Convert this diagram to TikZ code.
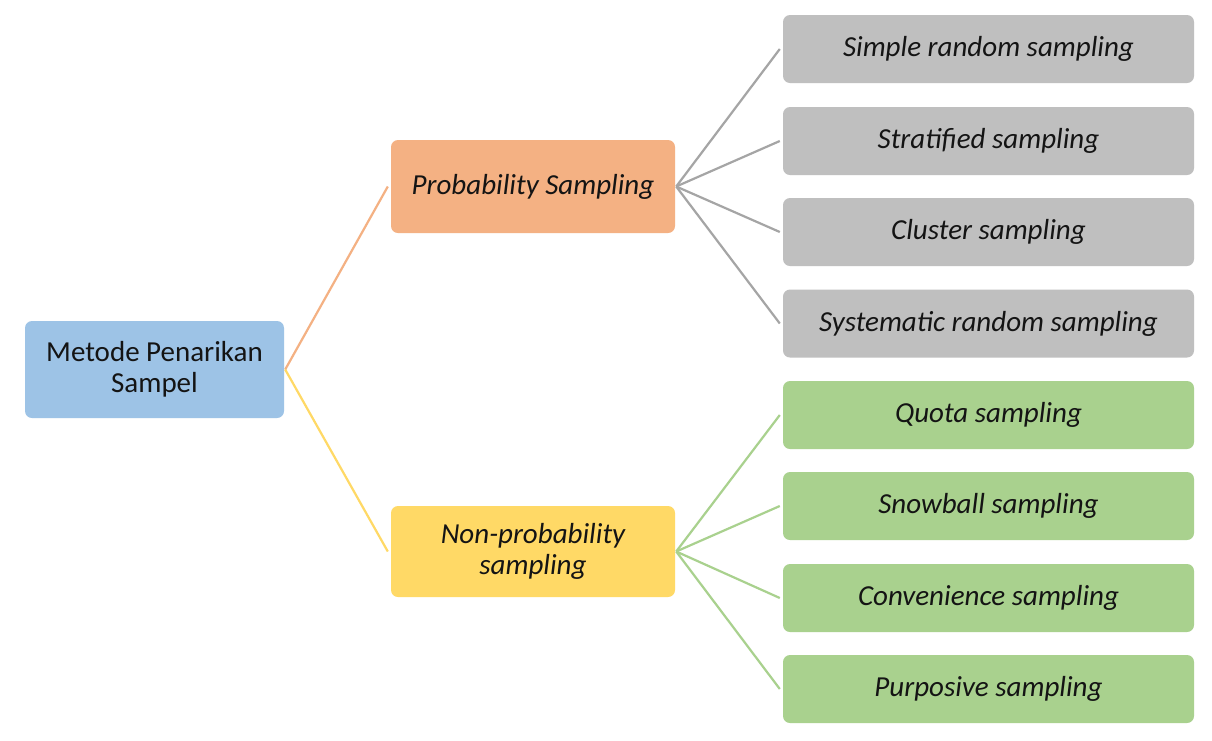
\documentclass[tikz,border=0pt]{standalone}
\usepackage{fontspec}
\setmainfont{Carlito}
\definecolor{bluebox}{HTML}{9DC3E6}
\definecolor{orangebox}{HTML}{F4B183}
\definecolor{yellowbox}{HTML}{FFD966}
\definecolor{graybox}{HTML}{BFBFBF}
\definecolor{greenbox}{HTML}{A9D18E}
\definecolor{grayline}{HTML}{A5A5A5}
\definecolor{txt}{HTML}{141414}
\begin{document}
\begin{tikzpicture}[x=1pt,y=-1pt,
  box/.style={rounded corners=7pt, inner sep=0pt, align=center, text=txt,
    font=\fontsize{29}{31}\selectfont},
  leafbox/.style={box, minimum width=411pt, minimum height=68pt, font=\fontsize{29}{31}\selectfont\itshape},
  midbox/.style={box, minimum width=284pt, font=\fontsize{29}{31}\selectfont\itshape},
  conn/.style={line width=2.2pt}
]
\useasboundingbox (0,0) rectangle (1212,740);
\fill[white] (0,0) rectangle (1212,740);

\node[box, fill=bluebox, minimum width=259pt, minimum height=97pt] (root) at (154.5,369.5) {Metode Penarikan\\Sampel};
\node[midbox, fill=orangebox, minimum height=93pt] (prob) at (533,186.5) {Probability Sampling};
\node[midbox, fill=yellowbox, minimum height=91pt] (nonprob) at (533,551.5) {Non-probability\\sampling};

\node[leafbox, fill=graybox] (p1) at (988.5,49) {Simple random sampling};
\node[leafbox, fill=graybox] (p2) at (988.5,141) {Stratified sampling};
\node[leafbox, fill=graybox] (p3) at (988.5,232) {Cluster sampling};
\node[leafbox, fill=graybox] (p4) at (988.5,323.5) {Systematic random sampling};

\node[leafbox, fill=greenbox] (n1) at (988.5,415) {Quota sampling};
\node[leafbox, fill=greenbox] (n2) at (988.5,506) {Snowball sampling};
\node[leafbox, fill=greenbox] (n3) at (988.5,598) {Convenience sampling};
\node[leafbox, fill=greenbox] (n4) at (988.5,689) {Purposive sampling};

\draw[conn, orangebox] ([xshift=1pt]root.east) -- ([xshift=-3pt]prob.west);
\draw[conn, yellowbox] ([xshift=1pt]root.east) -- ([xshift=-3pt]nonprob.west);
\foreach \c in {p1,p2,p3,p4}
  \draw[conn, grayline] ([xshift=1pt]prob.east) -- ([xshift=-3pt]\c.west);
\foreach \c in {n1,n2,n3,n4}
  \draw[conn, greenbox] ([xshift=1pt]nonprob.east) -- ([xshift=-3pt]\c.west);
\end{tikzpicture}
\end{document}
